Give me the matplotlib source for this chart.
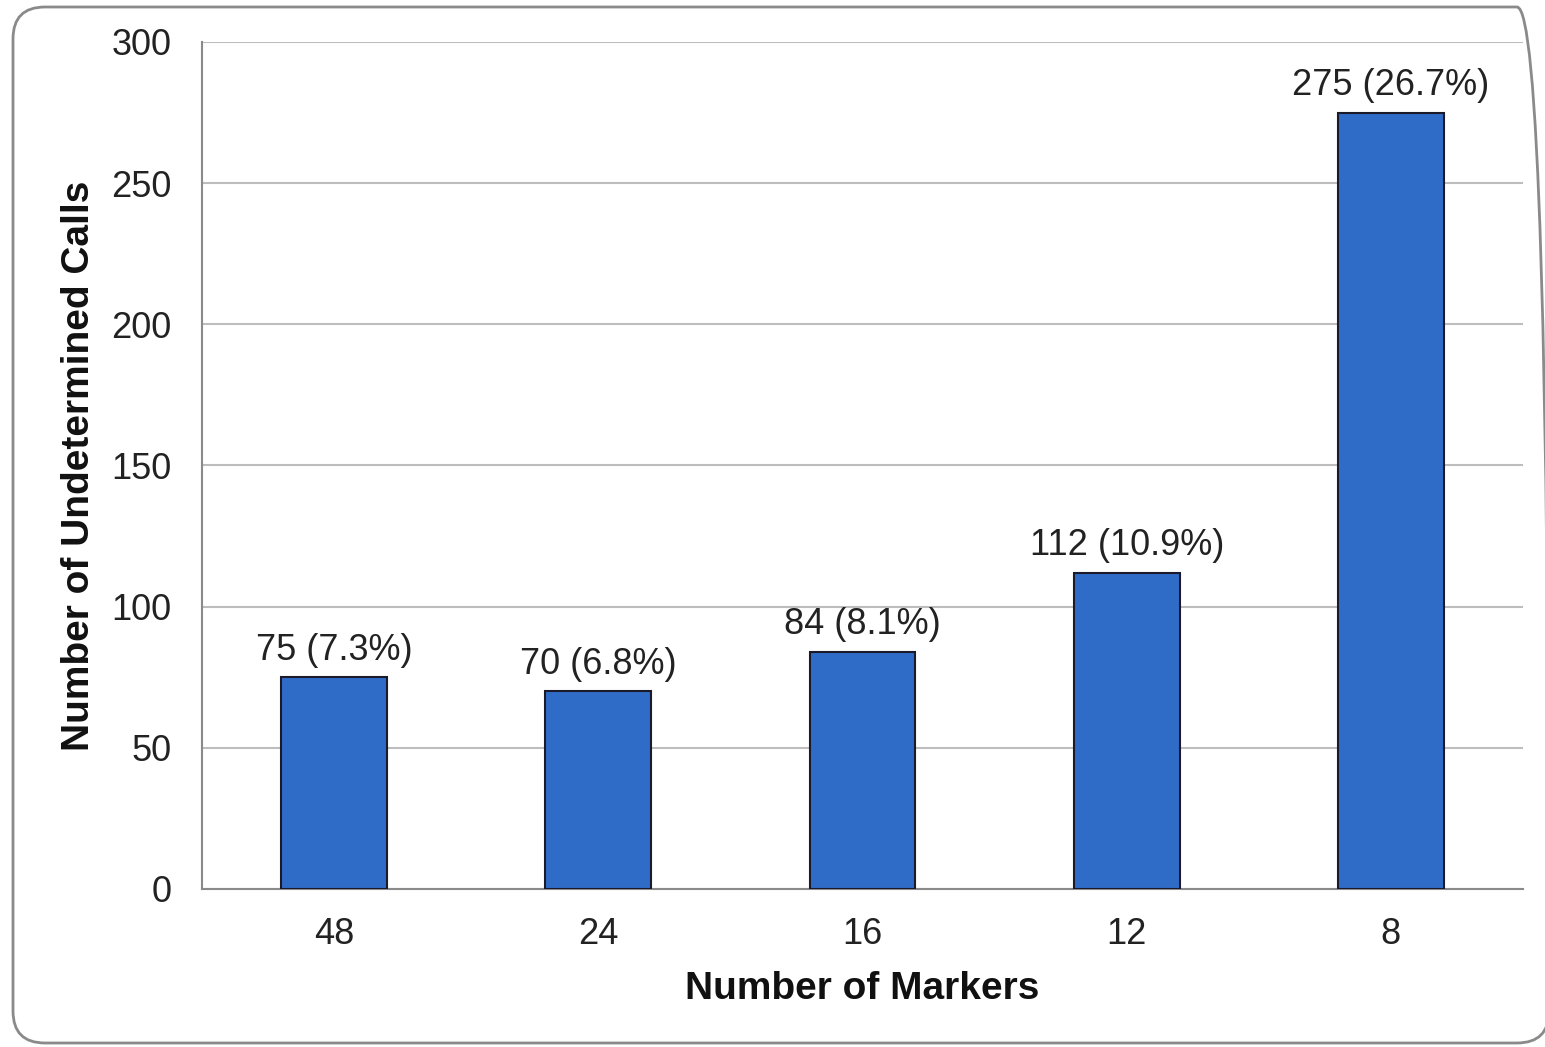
import matplotlib
matplotlib.use("Agg")
import matplotlib.pyplot as plt
from matplotlib.patches import FancyBboxPatch

categories = ["48", "24", "16", "12", "8"]
values = [75, 70, 84, 112, 275]
percents = ["7.3%", "6.8%", "8.1%", "10.9%", "26.7%"]
yticks = [0, 50, 100, 150, 200, 250, 300]

plt.rcParams['font.family'] = ['Liberation Sans', 'DejaVu Sans']

W, H = 1545, 1047
fig = plt.figure(figsize=(W/100, H/100), dpi=100)
ax = fig.add_axes([202/W, 1 - 889/H, (1523-202)/W, (889-42)/H])

x = list(range(len(categories)))
ax.bar(x, values, width=0.4, color="#2F6CC8", edgecolor="#1a1a2a", linewidth=1.5, zorder=3)
for xi, v, p in zip(x, values, percents):
    ax.annotate(f"{v} ({p})", (xi, v), xytext=(0, 7), textcoords="offset points",
                ha="center", va="bottom", fontsize=26, color="#222222")

ax.set_xlim(-0.5, len(categories) - 0.5)
ax.set_ylim(0, 300)
ax.set_yticks(yticks)
ax.set_xticks(x)
ax.set_xticklabels(categories)
ax.tick_params(axis="both", length=0, labelsize=26, colors="#222222")
ax.tick_params(axis="y", pad=22)
ax.tick_params(axis="x", pad=20)
ax.yaxis.grid(True, color="#bdbdbd", linewidth=1.5, zorder=0)
ax.set_axisbelow(True)
for s in ["top", "right"]:
    ax.spines[s].set_visible(False)
for s in ["left", "bottom"]:
    ax.spines[s].set_color("#8a8a8a")
    ax.spines[s].set_linewidth(1.5)

ax.set_xlabel("Number of Markers", fontsize=28, fontweight="bold", labelpad=14, color="#111111")
ax.set_ylabel("Number of Undetermined Calls", fontsize=28, fontweight="bold", labelpad=10, color="#111111")

# rounded frame, in inches (pixel/100)
border = FancyBboxPatch((13/100, (H - 1043)/100), (1549 - 13)/100, (1043 - 7)/100,
                        boxstyle="round,pad=0,rounding_size=0.32",
                        transform=fig.dpi_scale_trans, fill=False,
                        edgecolor="#8a8a8a", linewidth=2)
fig.patches.append(border)

fig.savefig("out.png", dpi=100)
